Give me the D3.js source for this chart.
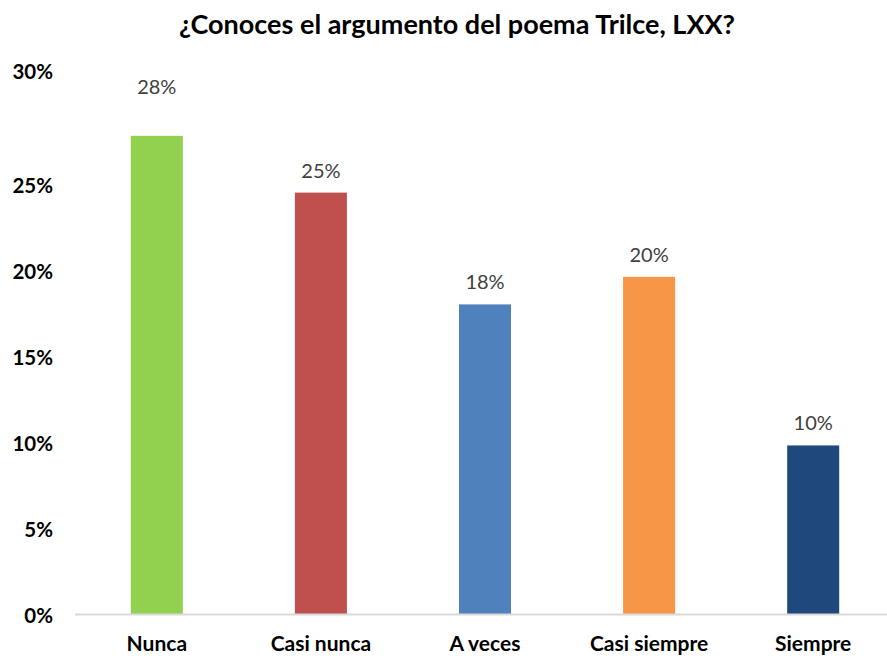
<!DOCTYPE html>
<html><head><meta charset="utf-8">
<script src="https://cdn.jsdelivr.net/npm/d3@7"></script>
<style>body{margin:0;background:#fff;} svg{display:block;font-family:Lato,"Open Sans",sans-serif;}</style>
</head><body>
<svg id="c" width="887" height="659"></svg>
<script>
const title = "¿Conoces el argumento del poema Trilce, LXX?";
const categories = ["Nunca", "Casi nunca", "A veces", "Casi siempre", "Siempre"];
const values = [0.278, 0.245, 0.180, 0.196, 0.098];
const labels = ["28%", "25%", "18%", "20%", "10%"];
const colors = ["#92D050", "#C0504D", "#4F81BD", "#F79646", "#1F497D"];
const yTicks = [0, 0.05, 0.10, 0.15, 0.20, 0.25, 0.30];

const svg = d3.select("#c");
const x = d3.scaleBand().domain(categories).range([75, 895]).paddingInner(0.683).paddingOuter(0.34);
const y = d3.scaleLinear().domain([0, 0.30]).range([614, 98]);

svg.append("text").attr("x", 457).attr("y", 34).attr("text-anchor", "middle")
  .attr("font-size", 27).attr("font-weight", "bold").attr("fill", "#000").text(title);

const ya = svg.append("g").attr("transform", "translate(53,0)")
  .call(d3.axisLeft(y).tickValues(yTicks).tickFormat(d3.format(".0%")).tickSize(0).tickPadding(0));
ya.select(".domain").remove();
ya.selectAll("text").attr("font-size", 20.5).attr("font-weight", "bold").attr("fill", "#000")
  .attr("font-family", "Lato,sans-serif")
  .attr("dy", (d) => d === 0.30 ? "-0.95em" : "0.4em");

svg.selectAll("rect.bar").data(categories).join("rect").attr("class", "bar")
  .attr("x", d => x(d)).attr("width", x.bandwidth())
  .attr("y", (d, i) => y(values[i])).attr("height", (d, i) => y(0) - y(values[i]))
  .attr("fill", (d, i) => colors[i]);

svg.append("line").attr("x1", 75).attr("x2", 887).attr("y1", y(0) + 0.5).attr("y2", y(0) + 0.5)
  .attr("stroke", "#d9d9d9").attr("stroke-width", 2);

svg.selectAll("text.lbl").data(categories).join("text").attr("class", "lbl")
  .attr("x", d => x(d) + x.bandwidth() / 2)
  .attr("y", (d, i) => y(values[i]) - (i === 0 ? 42 : 15))
  .attr("text-anchor", "middle").attr("font-size", 20).attr("fill", "#404040")
  .text((d, i) => labels[i]);

const xa = svg.append("g").attr("transform", `translate(0,${y(0)})`)
  .call(d3.axisBottom(x).tickSize(0).tickPadding(0));
xa.select(".domain").remove();
xa.selectAll("text").attr("font-size", 21).attr("font-weight", "bold").attr("fill", "#000")
  .attr("font-family", "Lato,sans-serif").attr("dy", "1.75em");
</script>
</body></html>
